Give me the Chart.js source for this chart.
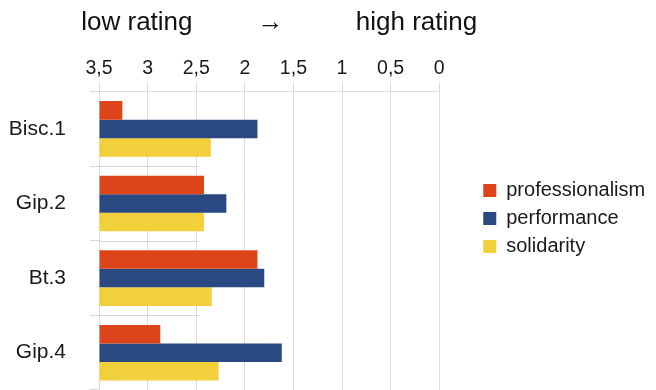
<!DOCTYPE html>
<html>
<head>
<meta charset="utf-8">
<script src="https://cdn.jsdelivr.net/npm/chart.js@4"></script>
<style>
    html, body { margin: 0; padding: 0; background: #fff; }
    #wrap { width: 656px; height: 390px; }
</style>
</head>
<body>
<div id="wrap"><canvas id="ratingChart"></canvas></div>
<script>
// categories and values (rating, bars start at 3.5 = low rating)
var teams = ['Bisc.1', 'Gip.2', 'Bt.3', 'Gip.4'];
var professionalism = [3.26, 2.42, 1.87, 2.87];
var performance = [1.87, 2.19, 1.80, 1.62];
var solidarity = [2.35, 2.42, 2.34, 2.27];
var seriesNames = ['professionalism', 'performance', 'solidarity'];
var axisMin = 0;
var axisMax = 3.5;
var axisStep = 0.5;
var titleText = '          low rating         \u2192          high rating';

Chart.defaults.font.family = '"Liberation Sans", Arial, sans-serif';
Chart.defaults.color = '#1a1a1a';

var legendGap = 55;
var legendOffset = 36;
var legendShift = 23.5;

// shorter separator lines between the categories
var separators = {
    id: 'separators',
    beforeDatasetsDraw: function (chart) {
        var x = chart.scales.x, y = chart.scales.y, ctx = chart.ctx;
        ctx.save();
        ctx.strokeStyle = '#d6d6d6';
        ctx.lineWidth = 1;
        for (let i = 0; i < teams.length - 1; i++) {
            var py = Math.round((y.getPixelForValue(i) + y.getPixelForValue(i + 1)) / 2) + 0.5;
            ctx.beginPath();
            ctx.moveTo(chart.chartArea.left, py);
            ctx.lineTo(x.getPixelForValue(2.47), py);
            ctx.stroke();
        }
        ctx.restore();
    }
};

// gap between plot and legend
var legendSpace = {
    id: 'legendSpace',
    afterInit: function (chart) {
        var lg = chart.legend;
        var fit = lg.fit;
        lg.fit = function () {
            fit.call(this);
            this.width += legendGap;
        };
    },
    afterLayout: function (chart) {
        chart.legend.left += legendOffset;
        chart.legend.top += legendShift;
        chart.legend.bottom += legendShift;
    }
};

var ctx = document.getElementById('ratingChart').getContext('2d');
var ratingChart = new Chart(ctx, {
    type: 'bar',
    data: {
        labels: teams,
        datasets: [
            {
                label: seriesNames[0],
                data: professionalism,
                backgroundColor: '#de4419',
                base: axisMax
            },
            {
                label: seriesNames[1],
                data: performance,
                backgroundColor: '#2a4982',
                base: axisMax
            },
            {
                label: seriesNames[2],
                data: solidarity,
                backgroundColor: '#f2d03c',
                base: axisMax
            }
        ]
    },
    options: {
        indexAxis: 'y',
        responsive: true,
        maintainAspectRatio: false,
        animation: false,
        categoryPercentage: 0.745,
        barPercentage: 1,
        layout: {
            padding: { left: 9, right: 0, top: 0, bottom: 0 }
        },
        scales: {
            x: {
                position: 'top',
                reverse: true,
                min: axisMin,
                max: axisMax,
                ticks: {
                    stepSize: axisStep,
                    padding: 2,
                    color: '#1a1a1a',
                    font: { size: 19.5 },
                    callback: function (value) {
                        return String(value).replace('.', ',');
                    }
                },
                grid: {
                    color: '#dcdcdc',
                    tickLength: 9
                },
                border: { color: '#dcdcdc' }
            },
            y: {
                afterFit: function (scale) {
                    scale.width = 90;
                    scale.paddingTop = 0;
                    scale.paddingBottom = 0;
                },
                ticks: {
                    padding: 24,
                    color: '#1a1a1a',
                    font: { size: 21 }
                },
                grid: {
                    offset: true,
                    drawOnChartArea: false,
                    color: '#d6d6d6',
                    tickLength: 9
                },
                border: { display: false }
            }
        },
        plugins: {
            title: {
                display: true,
                text: titleText,
                align: 'start',
                color: '#111',
                font: { size: 26, weight: 'normal' },
                padding: { top: 7, bottom: 17 }
            },
            legend: {
                position: 'right',
                labels: {
                    boxWidth: 13,
                    boxHeight: 13,
                    padding: 8,
                    color: '#1a1a1a',
                    font: { size: 20 }
                }
            },
            tooltip: { enabled: false }
        }
    },
    plugins: [separators, legendSpace]
});
</script>
</body>
</html>
